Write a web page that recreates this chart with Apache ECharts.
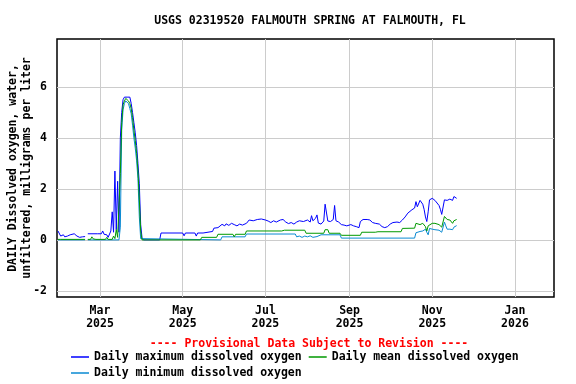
<!DOCTYPE html>
<html>
<head>
<meta charset="utf-8">
<script src="https://cdn.jsdelivr.net/npm/echarts@6/dist/echarts.min.js"></script>
<style>
html, body { margin: 0; padding: 0; background: #fff; }
#chart { width: 576px; height: 384px; }
</style>
</head>
<body>
<div id="chart"></div>
<script>
// tick positions (month starts) and y ticks
const xTicks = ['2025-03-01', '2025-05-01', '2025-07-01', '2025-09-01', '2025-11-01', '2026-01-01'];
const yTicks = [-2, 0, 2, 4, 6];
const monthNames = ['Jan', 'Feb', 'Mar', 'Apr', 'May', 'Jun', 'Jul', 'Aug', 'Sep', 'Oct', 'Nov', 'Dec'];

const seriesNames = ['Daily maximum dissolved oxygen', 'Daily mean dissolved oxygen', 'Daily minimum dissolved oxygen'];

// daily maximum (at change points)
const maxPts = [
    ['2025-01-29', 0.35], ['2025-01-30', 0.3], ['2025-01-31', 0.15], ['2025-02-01', 0.12], ['2025-02-02', 0.2],
    ['2025-02-03', 0.12], ['2025-02-04', 0.1], ['2025-02-05', 0.15], ['2025-02-06', 0.12], ['2025-02-07', 0.2],
    ['2025-02-08', 0.24], ['2025-02-10', 0.24], ['2025-02-11', 0.2], ['2025-02-12', 0.15], ['2025-02-13', 0.11],
    ['2025-02-14', 0.1], ['2025-02-15', 0.14], ['2025-02-16', 0.12], ['2025-02-17', 0.15], ['2025-02-18', 0.13],
    ['2025-02-19', null], ['2025-02-20', 0.24], ['2025-02-27', 0.24], ['2025-02-28', 0.22], ['2025-03-02', 0.24],
    ['2025-03-03', 0.35], ['2025-03-04', 0.22], ['2025-03-05', 0.2], ['2025-03-06', 0.2], ['2025-03-07', 0.1],
    ['2025-03-08', 0.1], ['2025-03-09', 0.35], ['2025-03-10', 1.1], ['2025-03-11', 0.3], ['2025-03-12', 2.7],
    ['2025-03-13', 0.4], ['2025-03-14', 2.3], ['2025-03-15', 0.3], ['2025-03-16', 4.0], ['2025-03-17', 5.0],
    ['2025-03-18', 5.5], ['2025-03-19', 5.6], ['2025-03-20', 5.65], ['2025-03-21', 5.6], ['2025-03-22', 5.65],
    ['2025-03-23', 5.6], ['2025-03-24', 5.35], ['2025-03-25', 5.0], ['2025-03-26', 4.6], ['2025-03-27', 4.2],
    ['2025-03-28', 3.7], ['2025-03-29', 3.0], ['2025-03-30', 2.2], ['2025-03-31', 0.6], ['2025-04-01', 0.08],
    ['2025-04-02', 0], ['2025-04-14', 0], ['2025-04-15', 0.27], ['2025-05-01', 0.27], ['2025-05-02', 0.16],
    ['2025-05-03', 0.27], ['2025-05-10', 0.27], ['2025-05-11', 0.15], ['2025-05-12', 0.27], ['2025-05-16', 0.27],
    ['2025-05-17', 0.33], ['2025-05-23', 0.33], ['2025-05-24', 0.46], ['2025-05-27', 0.48], ['2025-05-28', 0.55],
    ['2025-05-30', 0.61], ['2025-06-01', 0.55], ['2025-06-02', 0.63], ['2025-06-04', 0.57], ['2025-06-06', 0.65],
    ['2025-06-08', 0.6], ['2025-06-10', 0.55], ['2025-06-12', 0.62], ['2025-06-14', 0.58], ['2025-06-17', 0.65],
    ['2025-06-19', 0.78], ['2025-06-22', 0.75], ['2025-06-25', 0.8], ['2025-06-28', 0.82], ['2025-07-01', 0.78],
    ['2025-07-03', 0.74], ['2025-07-05', 0.68], ['2025-07-07', 0.75], ['2025-07-09', 0.7], ['2025-07-12', 0.78],
    ['2025-07-14', 0.8], ['2025-07-16', 0.7], ['2025-07-18', 0.64], ['2025-07-20', 0.68], ['2025-07-22', 0.62],
    ['2025-07-24', 0.7], ['2025-07-26', 0.75], ['2025-07-29', 0.72], ['2025-08-01', 0.78], ['2025-08-03', 0.7],
    ['2025-08-04', 0.95], ['2025-08-05', 0.75], ['2025-08-07', 0.85], ['2025-08-08', 0.98], ['2025-08-09', 0.66],
    ['2025-08-11', 0.62], ['2025-08-13', 0.74], ['2025-08-14', 1.4], ['2025-08-15', 1.4], ['2025-08-16', 0.74],
    ['2025-08-18', 0.72], ['2025-08-20', 0.8], ['2025-08-21', 1.35], ['2025-08-22', 0.75], ['2025-08-24', 0.7],
    ['2025-08-26', 0.6], ['2025-08-28', 0.58], ['2025-08-30', 0.55], ['2025-09-02', 0.6], ['2025-09-04', 0.55],
    ['2025-09-06', 0.52], ['2025-09-07', 0.46], ['2025-09-08', 0.48], ['2025-09-09', 0.72], ['2025-09-11', 0.8],
    ['2025-09-14', 0.8], ['2025-09-16', 0.78], ['2025-09-18', 0.68], ['2025-09-20', 0.65], ['2025-09-23', 0.62],
    ['2025-09-25', 0.52], ['2025-09-27', 0.48], ['2025-09-29', 0.52], ['2025-10-01', 0.62], ['2025-10-03', 0.68],
    ['2025-10-06', 0.7], ['2025-10-08', 0.68], ['2025-10-10', 0.78], ['2025-10-12', 0.9], ['2025-10-14', 1.05],
    ['2025-10-17', 1.18], ['2025-10-19', 1.25], ['2025-10-20', 1.5], ['2025-10-21', 1.3], ['2025-10-23', 1.55],
    ['2025-10-25', 1.4], ['2025-10-26', 1.2], ['2025-10-27', 0.9], ['2025-10-28', 0.72], ['2025-10-29', 1.1],
    ['2025-10-30', 1.57], ['2025-11-01', 1.63], ['2025-11-03', 1.55], ['2025-11-04', 1.5], ['2025-11-06', 1.35],
    ['2025-11-07', 1.2], ['2025-11-08', 1.0], ['2025-11-09', 0.94], ['2025-11-10', 1.57], ['2025-11-12', 1.55],
    ['2025-11-14', 1.6], ['2025-11-16', 1.55], ['2025-11-17', 1.7], ['2025-11-18', 1.65], ['2025-11-19', 1.63]
];

// daily mean
const meanPts = [
    ['2025-01-29', 0.02], ['2025-01-30', 0.08], ['2025-01-31', 0.02], ['2025-02-18', 0.02], ['2025-02-19', null],
    ['2025-02-20', 0.02], ['2025-02-22', 0.02], ['2025-02-23', 0.12], ['2025-02-24', 0.04], ['2025-02-25', 0.1],
    ['2025-02-26', 0.02], ['2025-03-05', 0.02], ['2025-03-06', 0.1], ['2025-03-07', 0.02], ['2025-03-10', 0.02],
    ['2025-03-11', 0.15], ['2025-03-12', 0.05], ['2025-03-13', 0.4], ['2025-03-14', 0.1], ['2025-03-15', 0.05],
    ['2025-03-16', 2.6], ['2025-03-17', 4.6], ['2025-03-18', 5.3], ['2025-03-19', 5.45], ['2025-03-20', 5.55],
    ['2025-03-21', 5.5], ['2025-03-22', 5.45], ['2025-03-23', 5.35], ['2025-03-24', 5.15], ['2025-03-25', 4.8],
    ['2025-03-26', 4.3], ['2025-03-27', 3.9], ['2025-03-28', 3.4], ['2025-03-29', 2.7], ['2025-03-30', 1.6],
    ['2025-03-31', 0.35], ['2025-04-01', 0], ['2025-05-14', 0], ['2025-05-15', 0.1], ['2025-05-26', 0.1],
    ['2025-05-27', 0.22], ['2025-06-07', 0.22], ['2025-06-08', 0.12], ['2025-06-09', 0.22], ['2025-06-16', 0.22],
    ['2025-06-17', 0.35], ['2025-07-13', 0.35], ['2025-07-14', 0.42], ['2025-07-15', 0.38], ['2025-07-30', 0.38],
    ['2025-07-31', 0.26], ['2025-08-13', 0.26], ['2025-08-14', 0.4], ['2025-08-16', 0.4], ['2025-08-17', 0.26],
    ['2025-08-25', 0.26], ['2025-08-26', 0.18], ['2025-09-09', 0.18], ['2025-09-10', 0.3], ['2025-09-20', 0.3],
    ['2025-09-21', 0.26], ['2025-09-22', 0.32], ['2025-10-09', 0.32], ['2025-10-10', 0.45], ['2025-10-19', 0.46],
    ['2025-10-20', 0.65], ['2025-10-23', 0.6], ['2025-10-25', 0.65], ['2025-10-27', 0.52], ['2025-10-28', 0.35],
    ['2025-10-29', 0.55], ['2025-10-30', 0.62], ['2025-11-01', 0.65], ['2025-11-03', 0.65], ['2025-11-06', 0.6],
    ['2025-11-08', 0.5], ['2025-11-09', 0.55], ['2025-11-10', 0.92], ['2025-11-11', 0.9], ['2025-11-12', 0.8],
    ['2025-11-14', 0.78], ['2025-11-16', 0.65], ['2025-11-17', 0.75], ['2025-11-19', 0.8]
];

// daily minimum
const minPts = [
    ['2025-01-29', 0], ['2025-02-18', 0], ['2025-02-19', null], ['2025-02-20', 0], ['2025-03-15', 0],
    ['2025-03-16', 0.5], ['2025-03-17', 4.3], ['2025-03-18', 5.1], ['2025-03-19', 5.35], ['2025-03-20', 5.45],
    ['2025-03-21', 5.4], ['2025-03-22', 5.35], ['2025-03-23', 5.15], ['2025-03-24', 4.95], ['2025-03-25', 4.5],
    ['2025-03-26', 4.0], ['2025-03-27', 3.6], ['2025-03-28', 3.1], ['2025-03-29', 2.4], ['2025-03-30', 0.9],
    ['2025-03-31', 0.05], ['2025-04-01', 0], ['2025-05-29', 0], ['2025-05-30', 0.12], ['2025-06-16', 0.12],
    ['2025-06-17', 0.23], ['2025-07-23', 0.23], ['2025-07-24', 0.12], ['2025-07-26', 0.15], ['2025-07-28', 0.1],
    ['2025-07-30', 0.15], ['2025-08-01', 0.12], ['2025-08-03', 0.16], ['2025-08-05', 0.1], ['2025-08-08', 0.13],
    ['2025-08-11', 0.2], ['2025-08-25', 0.2], ['2025-08-26', 0.07], ['2025-10-19', 0.07], ['2025-10-20', 0.28],
    ['2025-10-23', 0.33], ['2025-10-25', 0.35], ['2025-10-27', 0.42], ['2025-10-28', 0.3], ['2025-10-29', 0.2],
    ['2025-10-30', 0.45], ['2025-11-01', 0.42], ['2025-11-03', 0.4], ['2025-11-06', 0.38], ['2025-11-08', 0.3],
    ['2025-11-10', 0.7], ['2025-11-11', 0.55], ['2025-11-12', 0.42], ['2025-11-14', 0.42], ['2025-11-16', 0.4],
    ['2025-11-17', 0.5], ['2025-11-19', 0.56]
];

const font = 'DejaVu Sans Mono';
const myChart = echarts.init(document.getElementById('chart'));

// dates -> timestamps for a plain value axis
function ts(s) {
    const p = s.split('-');
    return new Date(+p[0], +p[1] - 1, +p[2]).getTime();
}
function toXY(pts) {
    return pts.map(p => [ts(p[0]), p[1]]);
}
const xTickVals = xTicks.map(ts);
const HOUR = 3600 * 1000;

const txt = { fontFamily: font, fontSize: 11.5, fontWeight: 'bold', color: '#000' };

const option = {
    animation: false,
    backgroundColor: '#fff',
    title: [
        {
            text: 'USGS 02319520 FALMOUTH SPRING AT FALMOUTH, FL',
            left: 305, top: 10, textAlign: 'center',
            textStyle: txt
        },
        {
            text: '---- Provisional Data Subject to Revision ----',
            left: 304, top: 333, textAlign: 'center',
            textStyle: Object.assign({}, txt, { color: '#ff0000' })
        }
    ],
    legend: [
        {
            left: 66, top: 346, itemWidth: 18, itemHeight: 1.5, itemGap: 7, icon: 'rect',
            data: [seriesNames[0], seriesNames[1]],
            textStyle: txt
        },
        {
            left: 66, top: 362, itemWidth: 18, itemHeight: 1.5, icon: 'rect',
            data: [seriesNames[2]],
            textStyle: txt
        }
    ],
    grid: {
        left: 57, top: 39, width: 497, height: 258,
        containLabel: false, outerBoundsMode: 'none',
        show: true, borderColor: '#000', borderWidth: 1.5, backgroundColor: 'transparent'
    },
    xAxis: {
        type: 'value',
        min: ts('2025-01-28') + 7 * HOUR,
        max: ts('2026-01-29') + 19 * HOUR,
        axisLine: { show: false },
        axisTick: { show: false, customValues: xTickVals },
        splitLine: { show: true, lineStyle: { color: '#cccccc', width: 1 } },
        axisLabel: Object.assign({
            customValues: xTickVals,
            margin: 8,
            lineHeight: 13,
            formatter: function (v) {
                const d = new Date(v);
                return monthNames[d.getMonth()] + '\n' + d.getFullYear();
            }
        }, txt)
    },
    yAxis: {
        type: 'value',
        min: -2.24,
        max: 7.88,
        name: 'DAILY Dissolved oxygen, water,\nunfiltered, milligrams per liter',
        nameLocation: 'middle',
        nameGap: 23,
        nameMoveOverlap: false,
        nameRotate: 90,
        nameTextStyle: Object.assign({ lineHeight: 14 }, txt),
        axisLine: { show: false },
        axisTick: { show: false, customValues: yTicks },
        splitLine: { show: true, lineStyle: { color: '#cccccc', width: 1 } },
        axisLabel: Object.assign({
            customValues: yTicks,
            margin: 10
        }, txt)
    },
    series: [
        {
            name: seriesNames[0], type: 'line', data: toXY(maxPts), symbol: 'none',
            color: '#0000ff', lineStyle: { width: 1 }
        },
        {
            name: seriesNames[2], type: 'line', data: toXY(minPts), symbol: 'none',
            color: '#0a8ad2', lineStyle: { width: 1 }
        },
        {
            name: seriesNames[1], type: 'line', data: toXY(meanPts), symbol: 'none',
            color: '#009900', lineStyle: { width: 1 }
        }
    ]
};
myChart.setOption(option);
</script>
</body>
</html>
